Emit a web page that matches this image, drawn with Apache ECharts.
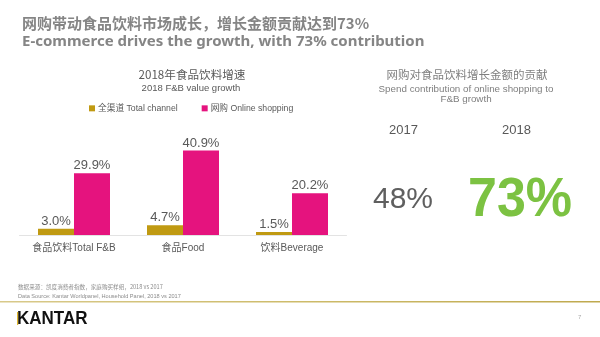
<!DOCTYPE html>
<html><head><meta charset="utf-8">
<script src="https://cdn.jsdelivr.net/npm/echarts@6/dist/echarts.min.js"></script>
<style>html,body{margin:0;padding:0;background:#fff}#c{width:600px;height:337px}</style>
</head><body><div id="c"></div>
<script>
var categories = ['食品饮料Total F&B', '食品Food', '饮料Beverage'];
var seriesNames = ['全渠道 Total channel', '网购 Online shopping'];
var totalChannel = [3.0, 4.7, 1.5];
var onlineShopping = [29.9, 40.9, 20.2];
var contribYears = ['2017', '2018'];
var contribValues = [48, 73];

var CJK = '"Noto Sans CJK SC", sans-serif';
var LAT = '"Liberation Sans", "Noto Sans CJK SC", sans-serif';
var GOLD = '#c09a12', PINK = '#e5137e', GRAY = '#595959';

var chart = echarts.init(document.getElementById('c'));
chart.setOption({
  backgroundColor: '#fff',
  animation: false,
  title: [
    {text: '网购带动食品饮料市场成长，增长金额贡献达到73%', left: 17, top: 11,
     textStyle: {fontFamily: CJK, fontSize: 15, fontWeight: 'bold', color: '#858585'}},
    {text: 'E-commerce drives the growth, with 73% contribution', left: 17, top: 29,
     textStyle: {fontFamily: '"Noto Sans", sans-serif', fontSize: 15, fontWeight: 'bold', color: '#858585'}},
    {text: '2018年食品饮料增速', left: 187, textAlign: 'center', top: 64,
     textStyle: {fontFamily: CJK, fontSize: 11.6, fontWeight: 'normal', color: GRAY}},
    {text: '2018 F&B value growth', left: 186, textAlign: 'center', top: 79,
     textStyle: {fontFamily: LAT, fontSize: 9.5, fontWeight: 'normal', color: GRAY}},
    {text: '网购对食品饮料增长金额的贡献', left: 462, textAlign: 'center', top: 64,
     textStyle: {fontFamily: CJK, fontSize: 11.5, fontWeight: 'normal', color: '#7f7f7f'}},
    {text: 'Spend contribution of online shopping to\nF&B growth', left: 461, textAlign: 'center', top: 79,
     textStyle: {fontFamily: LAT, fontSize: 9.8, fontWeight: 'normal', color: '#7f7f7f', lineHeight: 10.5}}
  ],
  legend: {
    left: 84, top: 99, icon: 'rect', itemWidth: 6, itemHeight: 6, itemGap: 24,
    textStyle: {fontFamily: LAT, fontSize: 8.7, color: GRAY, padding: [0, 0, 0, -2]},
    data: seriesNames
  },
  grid: {left: 19.5, right: 253.5, top: 131.75, bottom: 102, containLabel: false},
  xAxis: {
    type: 'category', data: categories,
    axisLine: {lineStyle: {color: '#e3e3e3', width: 1}},
    axisTick: {show: false},
    axisLabel: {fontFamily: LAT, fontSize: 10, color: GRAY, margin: 8}
  },
  yAxis: {type: 'value', min: 0, max: 50, show: false, splitLine: {show: false}},
  series: [
    {name: seriesNames[0], type: 'bar', data: totalChannel, barWidth: 36, barGap: '0%',
     itemStyle: {color: GOLD},
     label: {show: true, position: 'top', distance: 1, fontFamily: LAT, fontSize: 13, color: GRAY,
       formatter: function (p) { return p.value.toFixed(1) + '%'; }}},
    {name: seriesNames[1], type: 'bar', data: onlineShopping, barWidth: 36, barGap: '0%',
     itemStyle: {color: PINK},
     label: {show: true, position: 'top', distance: 1, fontFamily: LAT, fontSize: 13, color: GRAY,
       formatter: function (p) { return p.value.toFixed(1) + '%'; }}}
  ],
  graphic: [
    {type: 'text', left: 389, top: 124, style: {text: contribYears[0], fontFamily: LAT, fontSize: 13, fill: GRAY}},
    {type: 'text', left: 502, top: 124, style: {text: contribYears[1], fontFamily: LAT, fontSize: 13, fill: GRAY}},
    {type: 'text', left: 373, top: 185, style: {text: contribValues[0] + '%', fontFamily: LAT, fontSize: 30, fill: '#5f5f5f'}},
    {type: 'text', left: 468, top: 174, style: {text: contribValues[1] + '%', fontFamily: LAT, fontSize: 52, fontWeight: 'bold', fill: '#7cc242'}, scaleY: 1.05},
    {type: 'text', left: 18, top: 284, style: {text: '数据来源：凯度消费者指数，家庭购买样组，2018 vs 2017', fontFamily: CJK, fontSize: 5.6, fill: '#8c8c8c'}},
    {type: 'text', left: 18, top: 294, style: {text: 'Data Source: Kantar Worldpanel, Household Panel, 2018 vs 2017', fontFamily: LAT, fontSize: 5.6, fill: '#8c8c8c'}},
    {type: 'rect', left: 0, top: 301, shape: {width: 600, height: 1.5},
     style: {fill: new echarts.graphic.LinearGradient(0, 0, 1, 0, [{offset: 0, color: '#d8c98a'}, {offset: 0.5, color: '#cdbb6a'}, {offset: 1, color: '#bfa94e'}])}},
    {type: 'text', left: 17, top: 309, scaleY: 1.12, style: {text: 'KANTAR', fontFamily: '"Liberation Sans", sans-serif', fontSize: 17, fontWeight: 'bold', fill: '#111'}},
    {type: 'rect', left: 17, top: 312, shape: {width: 1.2, height: 13}, style: {fill: '#e0b830'}},
    {type: 'text', left: 578, top: 314, style: {text: '7', fontFamily: LAT, fontSize: 6, fill: '#aaa'}}
  ]
});
</script></body></html>
